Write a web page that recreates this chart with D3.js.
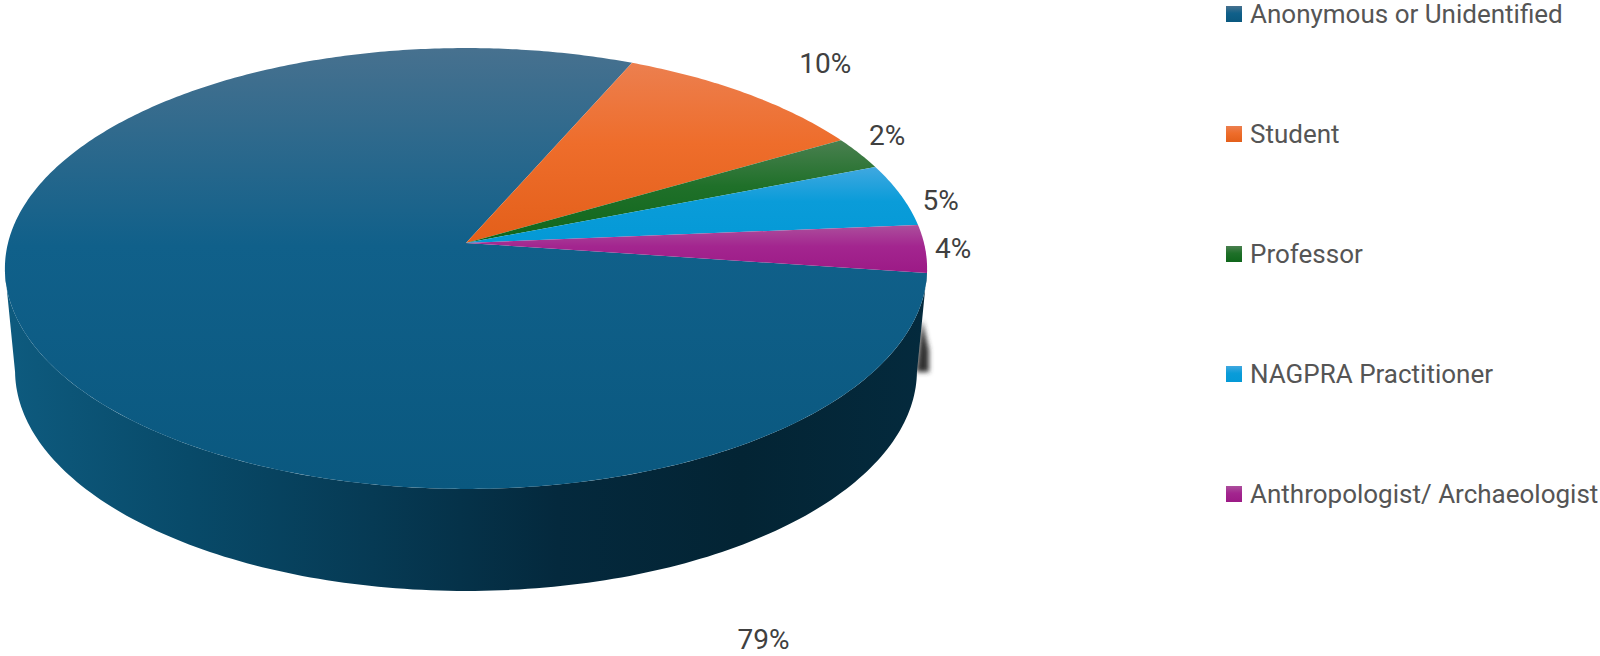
<!DOCTYPE html>
<html>
<head>
<meta charset="utf-8">
<script src="https://cdn.jsdelivr.net/npm/d3@7"></script>
<style>
	html, body { margin: 0; padding: 0; background: #fff; }
	svg { display: block; }
	text { font-family: "Roboto", "Inter", sans-serif; }
</style>
</head>
<body>
<div id="chart"></div>
<script>
// data
var categories = ["Anonymous or Unidentified", "Student", "Professor", "NAGPRA Practitioner", "Anthropologist/ Archaeologist"];
var shares = [79.4, 10.1, 2.4, 4.6, 3.5];
var shareLabels = ["79%", "10%", "2%", "5%", "4%"];
var topColors = ["#47718f", "#ec7f4f", "#4a8050", "#40a8e0", "#ac4f9c"];
var midColors = ["#10608a", "#ee6d2b", "#1f7029", "#0a9cd9", "#a3258f"];
var lowColors = ["#0a587f", "#e35f1a", "#0f661b", "#0499d6", "#9c1a86"];

var width = 1600;
var height = 656;

var svg = d3.select("#chart").append("svg")
	.attr("width", width)
	.attr("height", height);
var defs = svg.append("defs");

// pie disc seen in perspective: unit circle -> screen
var tilt = 0.1156;
var xScale = d3.scaleLinear().domain([-1, 1]).range([8, 924]);
var yScale = d3.scaleLinear().domain([-1, 1]).range([460.5, 25.5]);
var depth = 102;

function project(a, rimDepth) {
	var u = Math.sin(a), v = Math.cos(a), w = 1 + tilt * v;
	var shrink = rimDepth ? 0.978 : 1;
	return [
		xScale(0) + (xScale(u / w) - xScale(0)) * shrink,
		yScale(v / w) + (rimDepth || 0)
	];
}

var pie = d3.pie().sort(null).value(function (d) { return d; })
	.startAngle(97.8 * Math.PI / 180 )
	.endAngle(97.8 * Math.PI / 180 + 2 * Math.PI);
var arcs = pie(shares);

var line = d3.line();

// side wall, near half of the rim
var wallGrad = defs.append("linearGradient").attr("id", "wall")
	.attr("gradientUnits", "userSpaceOnUse")
	.attr("x1", 4).attr("x2", 926).attr("y1", 0).attr("y2", 0);
[[0, "#0e5b7f"], [0.2, "#084a69"], [0.4, "#063a54"], [0.6, "#04293d"], [0.8, "#032434"], [1, "#042a3d"]].forEach(function (s) {
	wallGrad.append("stop").attr("offset", s[0]).attr("stop-color", s[1]);
});

var rimAngles = d3.range(97, 264).map(function (d) { return d * Math.PI / 180; });
var wallPoints = rimAngles.map(function (a) { return project(a); })
	.concat(rimAngles.slice().reverse().map(function (a) { return project(a, depth); }));

// the smudge behind the right edge of the wall
var blur = defs.append("filter").attr("id", "smudge")
	.attr("x", "-100%").attr("y", "-30%").attr("width", "300%").attr("height", "160%");
blur.append("feGaussianBlur").attr("stdDeviation", 2.5);
svg.append("path")
	.attr("d", "M922,320L929,350L929,372L916,372Z")
	.attr("fill", "#333").attr("filter", "url(#smudge)");

svg.append("path")
	.attr("d", line(wallPoints) + "Z")
	.attr("fill", "url(#wall)");

// top face slices
arcs.forEach(function (d, i) {
	var grad = defs.append("linearGradient").attr("id", "slice" + i)
		.attr("x1", 0).attr("x2", 0).attr("y1", 0).attr("y2", 1);
	grad.append("stop").attr("offset", 0).attr("stop-color", topColors[i]);
	grad.append("stop").attr("offset", 0.45).attr("stop-color", midColors[i]);
	grad.append("stop").attr("offset", 1).attr("stop-color", lowColors[i]);

	var steps = Math.max(4, Math.ceil((d.endAngle - d.startAngle) * 90));
	var pts = d3.range(steps + 1).map(function (k) {
		return project(d.startAngle + (d.endAngle - d.startAngle) * k / steps);
	});
	pts.push([xScale(0), yScale(0)]);

	svg.append("path")
		.attr("class", "slice")
		.attr("d", line(pts) + "Z")
		.attr("fill", "url(#slice" + i + ")");
});

// data labels, pushed off the rim at each slice's middle
var labelNudge = [[721, 284], [78, -30], [28, -18], [40, 5], [28, 0]];
arcs.forEach(function (d, i) {
	var p = project((d.startAngle + d.endAngle) / 2);
	svg.append("text")
		.attr("x", p[0] + labelNudge[i][0])
		.attr("y", p[1] + labelNudge[i][1])
		.attr("text-anchor", "middle")
		.attr("dominant-baseline", "central")
		.attr("font-size", 28)
		.attr("fill", "#404040")
		.text(shareLabels[i]);
});

// legend
var legendY = d3.scalePoint().domain(categories).range([14, 494]);
var legend = svg.selectAll("g.legend").data(categories).enter().append("g")
	.attr("class", "legend")
	.attr("transform", function (d) { return "translate(1226," + legendY(d) + ")"; });
legend.append("rect")
	.attr("x", 0).attr("y", -8).attr("width", 16).attr("height", 16)
	.attr("fill", function (d, i) { return "url(#slice" + i + ")"; });
legend.append("text")
	.attr("x", 24)
	.attr("dominant-baseline", "central")
	.attr("font-size", 26)
	.attr("fill", "#555")
	.text(function (d) { return d; });
</script>
</body>
</html>
